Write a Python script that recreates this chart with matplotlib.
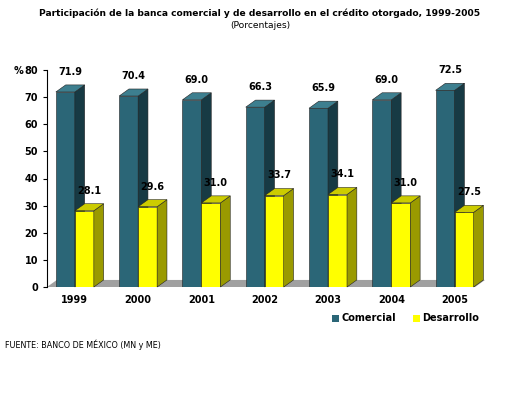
import matplotlib
matplotlib.use("Agg")
import matplotlib.pyplot as plt
from matplotlib.patches import Polygon

years = ["1999", "2000", "2001", "2002", "2003", "2004", "2005"]
comercial = [71.9, 70.4, 69.0, 66.3, 65.9, 69.0, 72.5]
desarrollo = [28.1, 29.6, 31.0, 33.7, 34.1, 31.0, 27.5]

fig = plt.figure(figsize=(5.2, 4.0), dpi=100)
ax = fig.add_axes([47/520, 1-287/400, 438/520, 217/400])
ax.set_xlim(-0.44, 6.48)
ax.set_ylim(0, 80)
w = 0.3
dx, dy = 0.155, 2.6

# floor
ax.add_patch(Polygon([(-0.44, 0), (6.48 - dx, 0), (6.48, dy), (-0.44 + dx, dy)],
                     closed=True, fc="#a0a0a0", ec="none", clip_on=False, zorder=0))

def bar3d(x0, h, front, side, top):
    ax.bar(x0 + w/2, h, width=w, color=front, edgecolor="#222222", linewidth=0.4, zorder=2)
    ax.add_patch(Polygon([(x0+w, 0), (x0+w+dx, dy), (x0+w+dx, h+dy), (x0+w, h)],
                         closed=True, fc=side, ec="#222222", lw=0.4, zorder=2, clip_on=False))
    ax.add_patch(Polygon([(x0, h), (x0+dx, h+dy), (x0+w+dx, h+dy), (x0+w, h)],
                         closed=True, fc=top, ec="#222222", lw=0.4, zorder=2, clip_on=False))

for i, (c, d) in enumerate(zip(comercial, desarrollo)):
    bar3d(i - 0.3, c, "#2b6677", "#173a44", "#3d7f8f")
    bar3d(i, d, "#ffff00", "#9a9a00", "#cccc00")
    ax.text(i - 0.3 + w/2 + dx/2, c + dy + 3, f"{c:.1f}", ha="center", va="bottom",
            fontsize=7, fontweight="bold", clip_on=False, zorder=5)
    ax.text(i + w/2 + dx/2, d + dy + 3, f"{d:.1f}", ha="center", va="bottom",
            fontsize=7, fontweight="bold", zorder=5)

ax.set_xticks(range(len(years)))
ax.set_xticklabels(years, fontsize=7, fontweight="bold")
ax.tick_params(axis="x", length=0, pad=6)
ax.set_yticks(range(0, 81, 10))
ax.tick_params(axis="y", labelsize=7, length=3)
for l in ax.get_yticklabels():
    l.set_fontweight("bold")
for s in ["top", "right"]:
    ax.spines[s].set_visible(False)
ax.spines["bottom"].set_visible(False)
ax.patch.set_visible(False)

fig.text(0.5, 1-13/400, "Participación de la banca comercial y de desarrollo en el crédito otorgado, 1999-2005",
         ha="center", va="center", fontsize=6.6, fontweight="bold")
fig.text(0.5, 1-25/400, "(Porcentajes)", ha="center", va="center", fontsize=6.6)
fig.text(14/520, 1-71/400, "%", fontsize=7, fontweight="bold", va="center")
fig.text(5/520, 1-345/400, "FUENTE: BANCO DE MÉXICO (MN y ME)", fontsize=5.8, va="center")

# legend
for xs, col, lab in [(332, "#2b6677", "Comercial"), (413, "#ffff00", "Desarrollo")]:
    fig.patches.append(plt.Rectangle((xs/520, 1-322/400), 7/520, 7/400, fc=col, ec="none",
                                     transform=fig.transFigure))
    fig.text((xs+9)/520, 1-318/400, lab, fontsize=7, fontweight="bold", va="center")

fig.savefig("out.png", dpi=100, facecolor="white")
